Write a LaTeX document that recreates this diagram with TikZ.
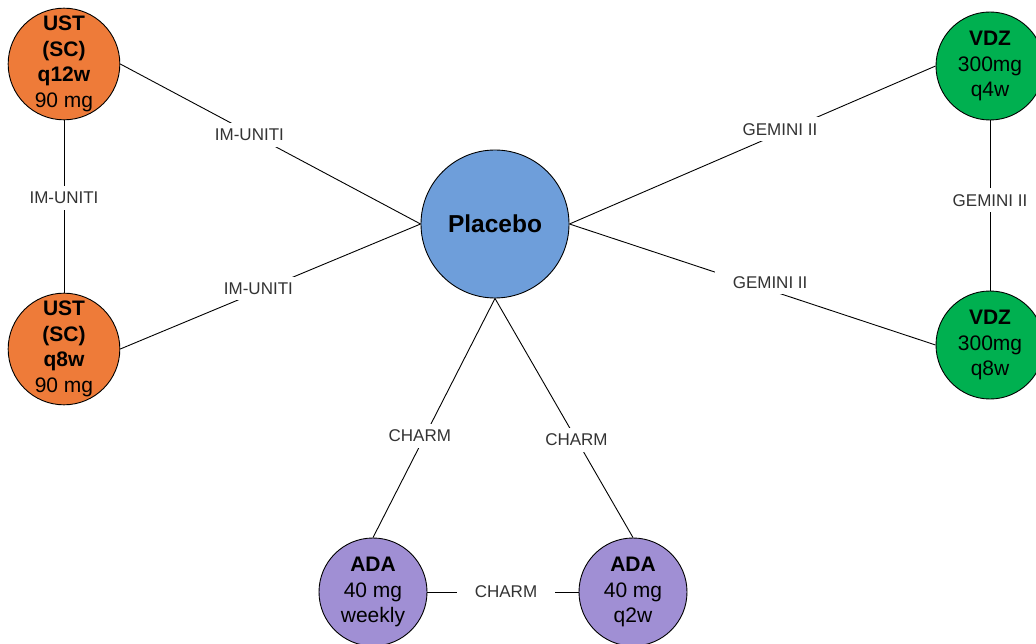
\documentclass[tikz,border=0pt]{standalone}
\usepackage{fontspec}
\setmainfont{Liberation Sans}
\usepackage{tikz}

\definecolor{ustorange}{RGB}{238,123,57}
\definecolor{placblue}{RGB}{110,158,218}
\definecolor{vdzgreen}{RGB}{0,176,80}
\definecolor{adapurple}{RGB}{160,143,212}

\tikzset{
	drug/.style={circle, draw=black, line width=0.9pt, inner sep=0pt, minimum size=108pt, align=center, font=\fontsize{21}{25.5}\selectfont},
	trial/.style={fill=white, inner xsep=18pt, inner ysep=6pt, text=black!80, font=\fontsize{17}{20}\selectfont},
	link/.style={line width=0.9pt}
}

\begin{document}
\begin{tikzpicture}[x=1pt, y=-1pt]
	\useasboundingbox (0,0) rectangle (1036,644);

	% Draw nodes
	%Centre
	\node[drug, fill=placblue, minimum size=148pt, font=\fontsize{24.5}{29}\selectfont\bfseries] (plac) at (495,224) {Placebo};
	%UST
	\node[drug, fill=ustorange] (ust12) at (64,64) {\textbf{UST}\\\textbf{(SC)}\\\textbf{q12w}\\90 mg};
	\node[drug, fill=ustorange] (ust8) at (64,349) {\textbf{UST}\\\textbf{(SC)}\\\textbf{q8w}\\90 mg};
	%VDZ
	\node[drug, fill=vdzgreen] (vdz4) at (990,66) {\textbf{VDZ}\\300mg\\q4w};
	\node[drug, fill=vdzgreen] (vdz8) at (990,345) {\textbf{VDZ}\\300mg\\q8w};
	%ADA
	\node[drug, fill=adapurple] (adaw) at (373,592) {\textbf{ADA}\\40 mg\\weekly};
	\node[drug, fill=adapurple] (ada2) at (633,592) {\textbf{ADA}\\40 mg\\q2w};

	% Draw trial links
	%IM-UNITI
	\draw[link] (ust12.east) -- node[trial, pos=0.43, yshift=-2pt] {IM-UNITI} (plac.west);
	\draw[link] (ust8.east) -- node[trial, pos=0.46, yshift=3pt] {IM-UNITI} (plac.west);
	\draw[link] (ust12.south) -- node[trial, pos=0.45] {IM-UNITI} (ust8.north);
	%GEMINI II
	\draw[link] (plac.east) -- node[trial, pos=0.575, yshift=4pt] {GEMINI II} (vdz4.west);
	\draw[link] (plac.east) -- node[trial, pos=0.548, yshift=8pt] {GEMINI II} (vdz8.west);
	\draw[link] (vdz4.south) -- node[trial, pos=0.47] {GEMINI II} (vdz8.north);
	%CHARM
	\draw[link] (plac.south) -- node[trial, pos=0.575, xshift=-5pt] {CHARM} (adaw.north);
	\draw[link] (plac.south) -- node[trial, pos=0.59] {CHARM} (ada2.north);
	\draw[link] (adaw.east) -- node[trial, pos=0.52] {CHARM} (ada2.west);

\end{tikzpicture}
\end{document}
